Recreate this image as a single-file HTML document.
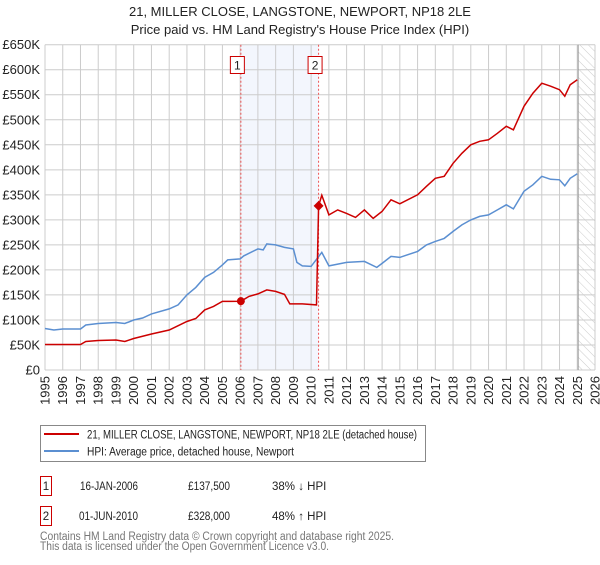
<!DOCTYPE html>
<html><head><meta charset="utf-8"><style>
body{margin:0;background:#fff;font-family:"Liberation Sans","DejaVu Sans",sans-serif;}
svg text{font-family:"Liberation Sans","DejaVu Sans",sans-serif;}
</style></head><body>
<svg id="c" width="600" height="560" viewBox="0 0 600 560" xmlns="http://www.w3.org/2000/svg">
<defs><pattern id="hatch" width="6" height="6" patternUnits="userSpaceOnUse" patternTransform="rotate(-45)"><line x1="0" y1="0" x2="0" y2="6" stroke="#ccc" stroke-width="1"/></pattern></defs>
<text x="300" y="16" text-anchor="middle" font-size="13" fill="#222">21, MILLER CLOSE, LANGSTONE, NEWPORT, NP18 2LE</text>
<text x="300" y="34" text-anchor="middle" font-size="13" fill="#222">Price paid vs. HM Land Registry's House Price Index (HPI)</text>
<g id="plot"></g>
<g>
<rect x="40.5" y="425.5" width="385" height="36" fill="#fff" stroke="#888"/>
<line x1="44" y1="434" x2="79" y2="434" stroke="#cc0000" stroke-width="2"/>
<text x="87" y="438.5" font-size="11.5" fill="#222" textLength="330" lengthAdjust="spacingAndGlyphs">21, MILLER CLOSE, LANGSTONE, NEWPORT, NP18 2LE (detached house)</text>
<line x1="44" y1="451" x2="79" y2="451" stroke="#5b8fd1" stroke-width="2"/>
<text x="87" y="455.5" font-size="11.5" fill="#222" textLength="207" lengthAdjust="spacingAndGlyphs">HPI: Average price, detached house, Newport</text>
</g>
<g font-size="11.5" fill="#222">
<rect x="40.5" y="476.5" width="11" height="19" fill="#fff" stroke="#cc0000"/>
<text x="46" y="490" text-anchor="middle">1</text>
<text x="80" y="490" textLength="58" lengthAdjust="spacingAndGlyphs">16-JAN-2006</text><text x="188" y="490" textLength="42" lengthAdjust="spacingAndGlyphs">£137,500</text><text x="272" y="490">38% ↓ HPI</text>
<rect x="40.5" y="506.5" width="11" height="19" fill="#fff" stroke="#cc0000"/>
<text x="46" y="520" text-anchor="middle">2</text>
<text x="79" y="520" textLength="59" lengthAdjust="spacingAndGlyphs">01-JUN-2010</text><text x="188" y="520" textLength="42" lengthAdjust="spacingAndGlyphs">£328,000</text><text x="272" y="520">48% ↑ HPI</text>
</g>
<text x="40" y="540" font-size="11.5" fill="#777" textLength="354" lengthAdjust="spacingAndGlyphs">Contains HM Land Registry data © Crown copyright and database right 2025.</text>
<text x="40" y="550" font-size="11.5" fill="#777" textLength="289" lengthAdjust="spacingAndGlyphs">This data is licensed under the Open Government Licence v3.0.</text>
</svg>
<script>
const yTicks=[0,50,100,150,200,250,300,350,400,450,500,550,600,650];
const yTickLabels=["£0","£50K","£100K","£150K","£200K","£250K","£300K","£350K","£400K","£450K","£500K","£550K","£600K","£650K"];
const xYears=[1995,1996,1997,1998,1999,2000,2001,2002,2003,2004,2005,2006,2007,2008,2009,2010,2011,2012,2013,2014,2015,2016,2017,2018,2019,2020,2021,2022,2023,2024,2025,2026];
const hpiT=[1995,1995.5,1996,1997,1997.3,1998,1999,1999.5,2000,2000.5,2001,2002,2002.5,2003,2003.5,2004,2004.5,2005,2005.3,2006,2006.2,2007,2007.3,2007.5,2008,2008.5,2009,2009.2,2009.5,2010,2010.6,2011,2012,2013,2013.7,2014,2014.5,2015,2016,2016.5,2017,2017.5,2018,2018.5,2019,2019.5,2020,2020.5,2021,2021.4,2022,2022.5,2023,2023.5,2024,2024.3,2024.6,2025];
const hpiV=[83,80,82,82,90,93,95,93,100,104,112,122,130,150,165,185,195,210,220,222,228,242,240,252,250,245,242,215,208,207,235,208,215,217,205,213,227,225,237,250,257,263,277,290,300,307,310,320,330,322,357,370,387,381,380,368,383,392];
const priceT=[1995,1997,1997.3,1998,1999,1999.5,2000,2001,2002,2003,2003.5,2004,2004.5,2005,2005.5,2006.04,2006.5,2007,2007.5,2008,2008.5,2008.8,2009.5,2010.3,2010.42,2010.6,2011,2011.5,2012,2012.5,2013,2013.5,2014,2014.5,2015,2016,2016.5,2017,2017.5,2018,2018.5,2019,2019.5,2020,2020.5,2021,2021.4,2022,2022.5,2023,2023.5,2024,2024.3,2024.6,2025];
const priceV=[51,51,57,59,60,57,63,72,80,97,103,120,127,137,137,137.5,147,152,160,157,151,132,132,130,328,349,310,320,313,305,320,303,317,340,332,350,367,383,387,413,433,450,457,460,473,487,480,527,553,573,567,560,547,570,580];
const saleT=[2006.04,2010.42];
const saleV=[137.5,328];
const saleLabels=["1","2"];

const L=45,R=595,T=44.7,B=370,Y0=1995,Y1=2026,VMAX=650;
const sx=t=>L+(t-Y0)/(Y1-Y0)*(R-L);
const sy=v=>B-v/VMAX*(B-T);
const NS="http://www.w3.org/2000/svg";
const g=document.getElementById('plot');
function mk(tag,attrs,parent){const e=document.createElementNS(NS,tag);for(const k in attrs)e.setAttribute(k,attrs[k]);(parent||g).appendChild(e);return e;}

const sh=mk('rect',{x:sx(saleT[0]),y:T,width:sx(saleT[1])-sx(saleT[0]),height:B-T,fill:'#f3f6fd'});


const ht=mk('rect',{x:sx(2025.05),y:T,width:R-sx(2025.05),height:B-T,fill:'url(#hatch)'});



yTicks.forEach((v,i)=>{
  const l=mk('line',{x1:L,x2:R,y1:sy(v),y2:sy(v),stroke:'#ccc','stroke-width':1});
  
  
  const t=mk('text',{x:L-5,y:sy(v)+4.5,'text-anchor':'end','font-size':13,fill:'#222'});
  
  
  t.textContent=yTickLabels[i];
});
xYears.forEach(y=>{
  const l=mk('line',{x1:sx(y),x2:sx(y),y1:T,y2:B,stroke:'#ccc','stroke-width':1});
  
  
  const t=mk('text',{x:0,y:0,'text-anchor':'end','font-size':13,fill:'#222',transform:`translate(${sx(y)+4.5},${B+6}) rotate(-90)`});
  
  
  t.textContent=y;
});
const vl=mk('line',{x1:sx(2025.05),x2:sx(2025.05),y1:T,y2:B,stroke:'#999','stroke-width':1});



saleT.forEach((t,i)=>{
  const l=mk('line',{x1:sx(t),x2:sx(t),y1:T,y2:B,stroke:'#e55','stroke-width':1,'stroke-dasharray':'2,2'});
  
  
  const r=mk('rect',{x:sx(t)-10.5,y:56.5,width:14,height:17,fill:'#fff',stroke:'#cc0000'});
  
  
  const tx=mk('text',{x:sx(t)-3.5,y:69.5,'text-anchor':'middle','font-size':12,fill:'#222'});
  
  
  tx.textContent=saleLabels[i];
});

function path(ts,vs){return ts.map((t,i)=>(i?'L':'M')+sx(t).toFixed(1)+','+sy(vs[i]).toFixed(1)).join('');}
const hp=mk('path',{d:path(hpiT,hpiV),fill:'none',stroke:'#5b8fd1','stroke-width':1.5});


const pp=mk('path',{d:path(priceT,priceV),fill:'none',stroke:'#cc0000','stroke-width':1.5});



const c1=mk('circle',{cx:sx(saleT[0]),cy:sy(saleV[0]),r:4,fill:'#cc0000'});


const x2=sx(saleT[1]),y2=sy(saleV[1]);
const d2=mk('path',{d:`M${x2},${y2-5}L${x2+5},${y2}L${x2},${y2+5}L${x2-5},${y2}Z`,fill:'#cc0000'});


</script>
</body></html>
